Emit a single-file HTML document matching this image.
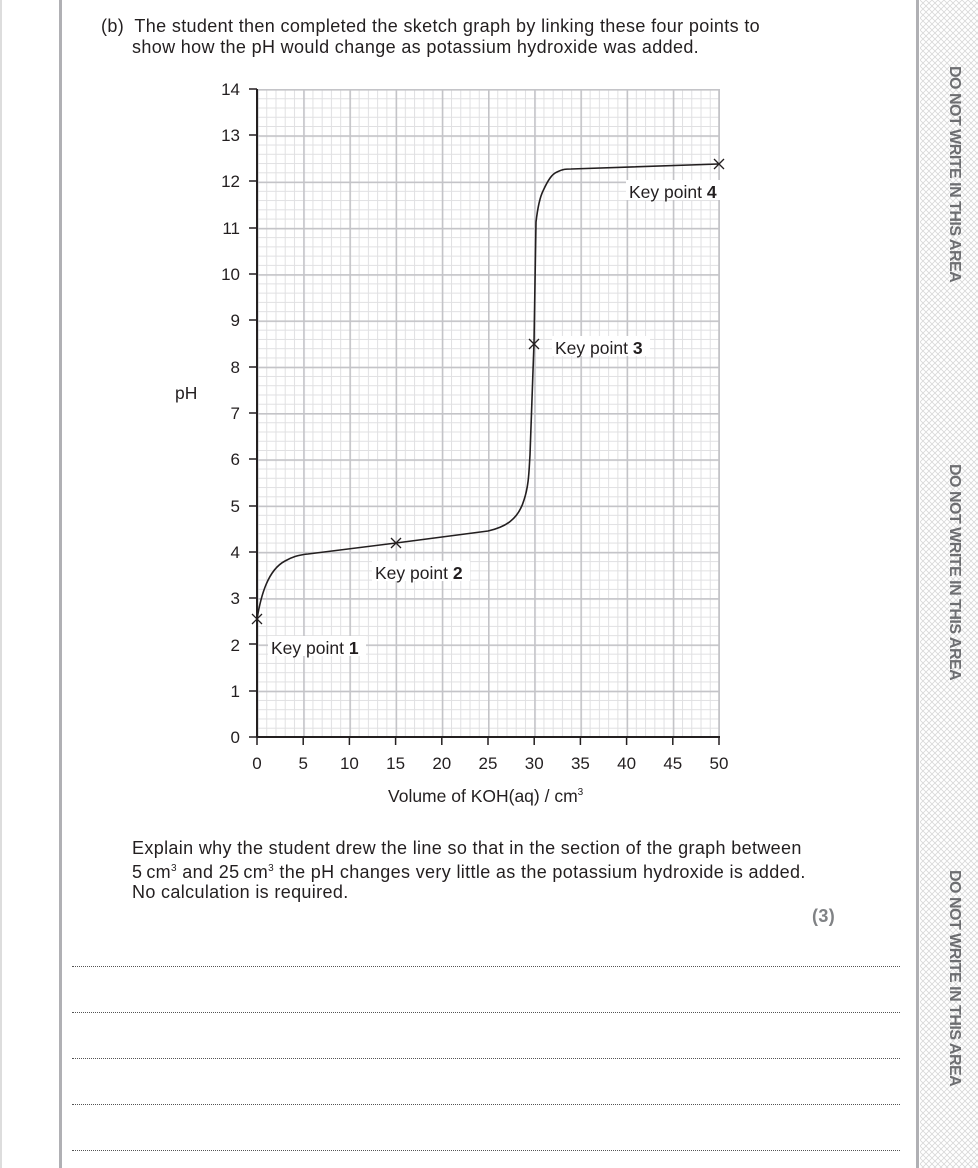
<!DOCTYPE html>
<html><head><meta charset="utf-8"><style>
body{margin:0;width:978px;height:1168px;background:#fff;position:relative;overflow:hidden;font-family:"Liberation Sans",sans-serif;color:#231f20}
.t{position:absolute;font-size:18px;line-height:20px;letter-spacing:0.35px;white-space:nowrap}
.dl{position:absolute;left:72px;width:828px;border-top:1px dotted #555}
.side{position:absolute;left:945px;writing-mode:vertical-rl;font-weight:bold;font-size:16px;color:#6d6e71;letter-spacing:-0.5px}
</style></head><body>
<div style="position:absolute;left:0;top:0;width:2px;height:1168px;background:#ddd"></div>
<div style="position:absolute;left:59px;top:0;width:3px;height:1168px;background:#b0b0b4"></div>
<div style="position:absolute;left:916px;top:0;width:3px;height:1168px;background:#b0b0b4"></div>
<svg style="position:absolute;left:920px;top:0" width="58" height="1168"><defs><pattern id="h" width="6" height="6" patternUnits="userSpaceOnUse"><path d="M0 0L6 6M6 0L0 6" stroke="#d8d8d8" stroke-width="0.8"/></pattern></defs><rect width="58" height="1168" fill="url(#h)"/></svg>
<div class="side" style="top:66px">DO NOT WRITE IN THIS AREA</div>
<div class="side" style="top:464px">DO NOT WRITE IN THIS AREA</div>
<div class="side" style="top:870px">DO NOT WRITE IN THIS AREA</div>
<div class="t" style="left:101px;top:16px">(b)&nbsp; The student then completed the sketch graph by linking these four points to</div>
<div class="t" style="left:132px;top:37px">show how the pH would change as potassium hydroxide was added.</div>
<svg style="position:absolute;left:0;top:0" width="920" height="820" font-family="Liberation Sans" font-size="17" fill="#231f20">
<defs>
<pattern id="mn" x="257" y="89" width="9.24" height="9.257" patternUnits="userSpaceOnUse"><path d="M0.5 0V9.257M0 0.5H9.24" stroke="#e0e0e2" stroke-width="1" fill="none"/></pattern>
<pattern id="mj" x="257" y="89" width="46.2" height="46.286" patternUnits="userSpaceOnUse"><path d="M0.8 0V46.286M0 0.8H46.2" stroke="#c4c4c8" stroke-width="1.6" fill="none"/></pattern>
</defs>
<rect x="257" y="89" width="463" height="649" fill="url(#mn)"/>
<rect x="257" y="89" width="463" height="649" fill="url(#mj)"/>
<line x1="719" y1="89" x2="719" y2="737" stroke="#c4c4c8" stroke-width="1.6"/>
<line x1="257" y1="89" x2="257" y2="737" stroke="#231f20" stroke-width="2"/>
<line x1="257" y1="737" x2="720" y2="737" stroke="#231f20" stroke-width="2"/>
<g stroke="#231f20" stroke-width="1.5">
<path d="M249 737H257M249 691H257M249 644H257M249 598H257M249 552H257M249 506H257M249 459H257M249 413H257M249 367H257M249 320H257M249 274H257M249 228H257M249 181H257M249 135H257M249 89H257"/>
<path d="M257 737V745M303.2 737V745M349.4 737V745M395.6 737V745M441.8 737V745M488 737V745M534.2 737V745M580.4 737V745M626.6 737V745M672.8 737V745M719 737V745"/>
</g>
<g text-anchor="end">
<text x="240" y="743">0</text><text x="240" y="697">1</text><text x="240" y="651">2</text><text x="240" y="604">3</text><text x="240" y="558">4</text><text x="240" y="512">5</text><text x="240" y="465">6</text><text x="240" y="419">7</text><text x="240" y="373">8</text><text x="240" y="326">9</text><text x="240" y="280">10</text><text x="240" y="234">11</text><text x="240" y="187">12</text><text x="240" y="141">13</text><text x="240" y="95">14</text>
</g>
<g text-anchor="middle">
<text x="257" y="769">0</text><text x="303.2" y="769">5</text><text x="349.4" y="769">10</text><text x="395.6" y="769">15</text><text x="441.8" y="769">20</text><text x="488" y="769">25</text><text x="534.2" y="769">30</text><text x="580.4" y="769">35</text><text x="626.6" y="769">40</text><text x="672.8" y="769">45</text><text x="719" y="769">50</text>
</g>
<path d="M257 619C261 595 268 570 285 561C292 557 298 555 308 554L396 543L488 531C505 527 518 520 524 500C529 485 529 470 530 455L534 343L536 222C538 205 540 197 543 191C548 180 552 174 557 172C563 169 566 169 571 169L719 164" fill="none" stroke="#231f20" stroke-width="1.6"/>
<g stroke="#231f20" stroke-width="1.3"><path d="M252 614l10 10M262 614l-10 10"/><path d="M391 538l10 10M401 538l-10 10"/><path d="M529 339l10 10M539 339l-10 10"/><path d="M714 159l10 10M724 159l-10 10"/></g>
<g font-size="17.5">
<rect x="268" y="636" width="98" height="20" fill="#fff"/><text x="271" y="654">Key point <tspan font-weight="bold">1</tspan></text>
<rect x="372" y="561" width="98" height="20" fill="#fff"/><text x="375" y="579">Key point <tspan font-weight="bold">2</tspan></text>
<rect x="552" y="336" width="98" height="20" fill="#fff"/><text x="555" y="354">Key point <tspan font-weight="bold">3</tspan></text>
<rect x="626" y="180" width="98" height="20" fill="#fff"/><text x="629" y="198">Key point <tspan font-weight="bold">4</tspan></text>
<text x="175" y="399">pH</text>
<text x="388" y="802">Volume of KOH(aq) / cm<tspan font-size="10" dy="-7">3</tspan></text>
</g>
</svg>
<div class="t" style="left:132px;top:838px">Explain why the student drew the line so that in the section of the graph between</div>
<div class="t" style="left:132px;top:859px">5&thinsp;cm<sup style="font-size:10px">3</sup> and 25&thinsp;cm<sup style="font-size:10px">3</sup> the pH changes very little as the potassium hydroxide is added.</div>
<div class="t" style="left:132px;top:882px">No calculation is required.</div>
<div class="t" style="left:812px;top:906px;font-weight:bold;color:#808285">(3)</div>
<div class="dl" style="top:966px"></div><div class="dl" style="top:1012px"></div><div class="dl" style="top:1058px"></div><div class="dl" style="top:1104px"></div><div class="dl" style="top:1150px"></div>
</body></html>
